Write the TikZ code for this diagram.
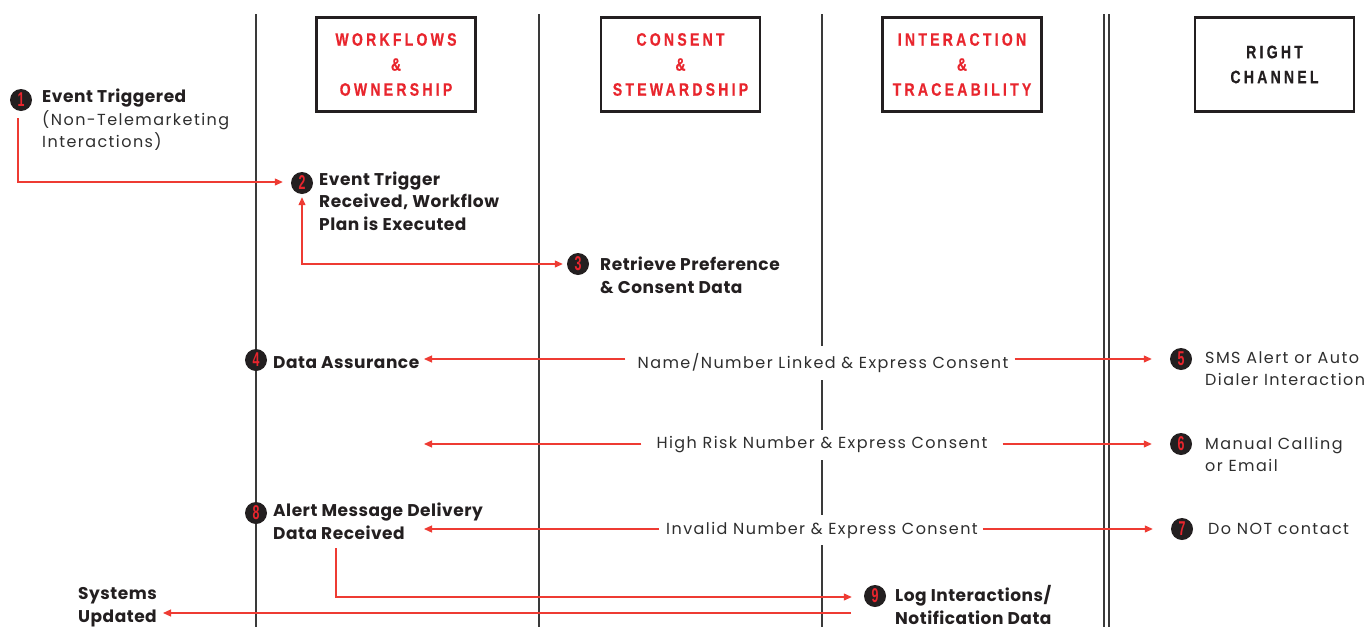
\documentclass[tikz,border=0pt]{standalone}
\usepackage{fontspec}
\setmainfont{Poppins}
\newfontfamily\headfont[FakeStretch=0.78,LetterSpace=18,FakeBold=0.6]{Liberation Sans}
\newfontfamily\digitfont[FakeStretch=0.62]{Liberation Sans}
\usetikzlibrary{arrows.meta,calc}
\definecolor{ink}{HTML}{231F20}
\definecolor{flow}{HTML}{EE3B33}
\definecolor{headred}{HTML}{E8252D}
\definecolor{rule}{HTML}{3A3A3A}
\definecolor{bodygray}{HTML}{2E2E2E}

\begin{document}
\begin{tikzpicture}[x=1pt,y=-1pt,
  lane/.style={draw=rule,line width=1.3pt},
  headbox/.style={draw=ink,line width=2.6pt,minimum width=159pt,minimum height=94pt,
    inner sep=0,align=center,text=headred,
    font=\headfont\bfseries\fontsize{18}{25}\selectfont},
  numdot/.style={circle,fill=ink,minimum size=22pt,inner sep=0,text=headred,
    font=\digitfont\bfseries\fontsize{20}{20}\selectfont},
  boldtxt/.style={anchor=base west,inner sep=0,align=left,text=ink,
    font=\bfseries\fontsize{17}{22.5}\selectfont\addfontfeature{LetterSpace=3}},
  plaintxt/.style={anchor=base west,inner sep=0,align=left,text=bodygray,
    font=\fontsize{16}{22.5}\selectfont\addfontfeature{LetterSpace=9}},
  midtxt/.style={fill=white,inner xsep=0,inner ysep=7pt,text=bodygray,
    font=\fontsize{16}{18}\selectfont\addfontfeature{LetterSpace=9}},
  flowarrow/.style={draw=flow,line width=1.2pt,-{Triangle[length=8pt,width=7pt]}},
  twoway/.style={draw=flow,line width=1.2pt,{Triangle[length=8pt,width=7pt]}-{Triangle[length=8pt,width=7pt]}},
]
\useasboundingbox (0,0) rectangle (1369,627);

% swim-lane separators
\coordinate (laneA top) at (256,14);   \coordinate (laneA bot) at (256,627);
\coordinate (laneB top) at (539,14);   \coordinate (laneB bot) at (539,627);
\coordinate (laneC top) at (822,14);   \coordinate (laneC bot) at (822,627);
\coordinate (laneD top) at (1104,14);  \coordinate (laneD bot) at (1104,627);
\coordinate (laneE top) at (1109,14);  \coordinate (laneE bot) at (1109,627);
\draw[lane] (laneA top) -- (laneA bot);
\draw[lane] (laneB top) -- (laneB bot);
\draw[lane] (laneC top) -- (laneC bot);
\draw[lane,line width=1.1pt] (laneD top) -- (laneD bot);
\draw[lane,line width=1.1pt] (laneE top) -- (laneE bot);

% column headers
\node[headbox] (hWork)  at (396,64.5)    {WORKFLOWS\\\&\\OWNERSHIP};
\node[headbox] (hCons)  at (680.5,64.5)  {CONSENT\\\&\\STEWARDSHIP};
\node[headbox] (hInter) at (962,64.5)    {INTERACTION\\\&\\TRACEABILITY};
\node[headbox,text=ink] (hRight) at (1274.5,64.5) {RIGHT\\CHANNEL};

% numbered steps
\node[numdot] (n1) at (21,100)  {1};
\node[numdot] (n2) at (302,183) {2};
\node[numdot] (n3) at (578,264) {3};
\node[numdot] (n4) at (256,360) {4};
\node[numdot] (n5) at (1181,359) {5};
\node[numdot] (n6) at (1181,444) {6};
\node[numdot] (n7) at (1182,529) {7};
\node[numdot] (n8) at (256,513) {8};
\node[numdot] (n9) at (875,596) {9};

% step texts (anchored at the baseline of their last line)
\node[plaintxt] (t1) at (42,147.5) {{\bfseries\color{ink}\addfontfeature{LetterSpace=3}\fontsize{17}{22.5}\selectfont Event Triggered}\\(Non-Telemarketing\\Interactions)};
\node[boldtxt] (t2) at (319,230) {Event Trigger\\Received, Workflow\\Plan is Executed};
\node[boldtxt] (t3) at (600,293) {Retrieve Preference\\\& Consent Data};
\node[boldtxt] (t4) at (273,368) {Data Assurance};
\node[plaintxt] (t5) at (1205,385.5) {SMS Alert or Auto\\Dialer Interaction};
\node[plaintxt] (t6) at (1205,471.5) {Manual Calling\\or Email};
\node[plaintxt] (t7) at (1208,534.5) {Do NOT contact};
\node[boldtxt] (t8) at (273,539) {Alert Message Delivery\\Data Received};
\node[boldtxt] (t9) at (895,624) {Log Interactions/\\Notification Data};
\node[boldtxt] (su) at (78,622) {Systems\\Updated};

% routing conditions
\node[midtxt] (l4) at (823,363) {Name/Number Linked \& Express Consent};
\node[midtxt] (l6) at (822,445) {High Risk Number \& Express Consent};
\node[midtxt] (l7) at (822,530) {Invalid Number \& Express Consent};

% free ends of connectors
\coordinate (s1) at (18,118);
\coordinate (back4) at (424,359);
\coordinate (back6) at (424,444);
\coordinate (back7) at (424,529);
\coordinate (s8) at (336,548);
\coordinate (e9) at (851,613);

% flow
\draw[flowarrow] (s1) |- ($(n2.west)+(-8,-1)$);
\draw[twoway] ($(n2.south)+(0,3)$) |- ($(n3.west)+(-4,0)$);
\draw[flowarrow] ($(l4.west)+(-12,-4)$) -- (back4);
\draw[flowarrow] ($(l4.east)+(6,-4)$) -- ($(n5.west)+(-18,0)$);
\draw[flowarrow] ($(l6.west)+(-15,-1)$) -- (back6);
\draw[flowarrow] ($(l6.east)+(15,-1)$) -- ($(n6.west)+(-18,0)$);
\draw[flowarrow] ($(l7.west)+(-7,-1)$) -- (back7);
\draw[flowarrow] ($(l7.east)+(5,-1)$) -- ($(n7.west)+(-18,0)$);
\draw[flowarrow] (s8) |- ($(n9.west)+(-12,1)$);
\draw[flowarrow] (e9) -- ($(su.east |- e9)+(6,0)$);
\end{tikzpicture}
\end{document}
